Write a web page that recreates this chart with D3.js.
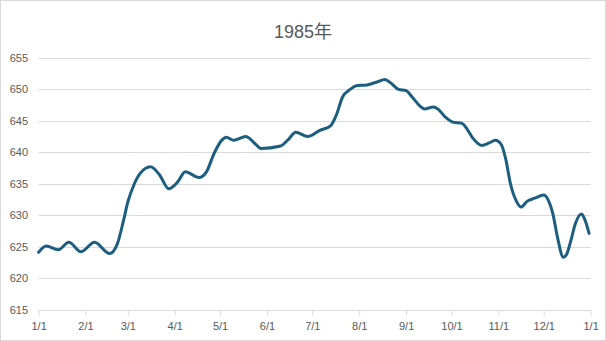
<!DOCTYPE html>
<html><head><meta charset="utf-8">
<script src="https://cdn.jsdelivr.net/npm/d3@7"></script>
<style>html,body{margin:0;padding:0;background:#fff}svg{display:block}</style>
</head><body>
<svg id="c" width="606" height="341"></svg>
<script>
const title = "1985年";
const dates = ["1985-01-01","1985-01-06","1985-01-14","1985-01-21","1985-01-29","1985-02-07","1985-02-17","1985-02-22","1985-02-26","1985-03-01","1985-03-05","1985-03-09","1985-03-16","1985-03-22","1985-03-28","1985-04-03","1985-04-08","1985-04-17","1985-04-22","1985-04-27","1985-05-02","1985-05-05","1985-05-10","1985-05-18","1985-05-24","1985-05-28","1985-06-10","1985-06-15","1985-06-20","1985-06-28","1985-07-06","1985-07-13","1985-07-17","1985-07-21","1985-07-26","1985-07-30","1985-08-06","1985-08-09","1985-08-13","1985-08-18","1985-08-22","1985-08-27","1985-09-01","1985-09-05","1985-09-10","1985-09-13","1985-09-19","1985-09-22","1985-09-27","1985-10-02","1985-10-08","1985-10-11","1985-10-15","1985-10-21","1985-10-26","1985-10-30","1985-11-03","1985-11-06","1985-11-09","1985-11-13","1985-11-16","1985-11-20","1985-11-25","1985-12-01","1985-12-04","1985-12-07","1985-12-10","1985-12-14","1985-12-16","1985-12-19","1985-12-22","1985-12-26","1985-12-28","1985-12-31"];
const values = [624.1,625.1,624.5,625.7,624.2,625.7,623.9,625.4,629.0,632.1,634.8,636.6,637.7,636.4,634.2,635.3,636.9,636.0,636.9,639.8,641.9,642.4,641.9,642.5,641.4,640.6,641.0,642.0,643.2,642.5,643.5,644.2,646.0,648.8,650.0,650.6,650.7,650.9,651.2,651.6,651.0,650.0,649.8,648.8,647.4,646.9,647.2,646.9,645.6,644.8,644.6,643.8,642.3,641.1,641.5,641.9,641.2,638.8,635.0,632.2,631.3,632.2,632.7,633.2,632.4,630.3,626.6,623.3,623.7,626.0,628.7,630.2,629.4,627.1];
const yTicks = [615,620,625,630,635,640,645,650,655];
const xTickDates = ["1985-01-01","1985-02-01","1985-03-01","1985-04-01","1985-05-01","1985-06-01","1985-07-01","1985-08-01","1985-09-01","1985-10-01","1985-11-01","1985-12-01","1986-01-01"];
const xTickLabels = ["1/1","2/1","3/1","4/1","5/1","6/1","7/1","8/1","9/1","10/1","11/1","12/1","1/1"];

const parse = d3.timeParse("%Y-%m-%d");
const data = dates.map((d,i)=>({d:parse(d), v:values[i]}));
const svg = d3.select("#c");
const W=606,H=341;
const x = d3.scaleTime().domain([parse("1985-01-01"), parse("1986-01-01")]).range([38.6, 590.6]);
const y = d3.scaleLinear().domain([615,655]).range([309.5, 58]);
const font = "'Liberation Sans', Arial, sans-serif";
const txt = "#595959";

svg.append("rect").attr("x",0.5).attr("y",0.5).attr("width",W-1).attr("height",H-1)
  .attr("fill","#fff").attr("stroke","#d9d9d9");

svg.append("text").attr("x",303).attr("y",38).attr("text-anchor","middle")
  .attr("font-family",font+", 'Noto Sans CJK SC'").attr("font-size",18).attr("fill",txt).text(title);

// gridlines
svg.append("g").selectAll("line").data(yTicks).join("line")
  .attr("x1",38.6).attr("x2",590.6)
  .attr("y1",d=>Math.round(y(d))+0.5).attr("y2",d=>Math.round(y(d))+0.5)
  .attr("stroke","#d9d9d9").attr("stroke-width",1);

// y axis labels
const ya = svg.append("g").attr("transform","translate(28,0)")
  .call(d3.axisLeft(y).tickValues(yTicks).tickSize(0).tickPadding(0).tickFormat(d3.format("d")));
ya.select(".domain").remove();
ya.selectAll("text").attr("font-family",font).attr("font-size",11).attr("fill",txt).attr("x",0);

// x axis
const xa = svg.append("g").attr("transform",`translate(0,${Math.round(y(615))+0.5})`)
  .call(d3.axisBottom(x).tickValues(xTickDates.map(parse)).tickSize(5).tickPadding(7)
    .tickFormat((d,i)=>xTickLabels[i]));
xa.select(".domain").remove();
xa.selectAll(".tick line").attr("stroke","#d9d9d9");
xa.selectAll("text").attr("font-family",font).attr("font-size",11).attr("fill",txt);

// line
const line = d3.line().x(d=>x(d.d)).y(d=>y(d.v)).curve(d3.curveMonotoneX);
svg.append("path").datum(data).attr("d",line).attr("fill","none")
  .attr("stroke","#1c5e80").attr("stroke-width",3).attr("stroke-linejoin","round").attr("stroke-linecap","round");
</script>
</body></html>
